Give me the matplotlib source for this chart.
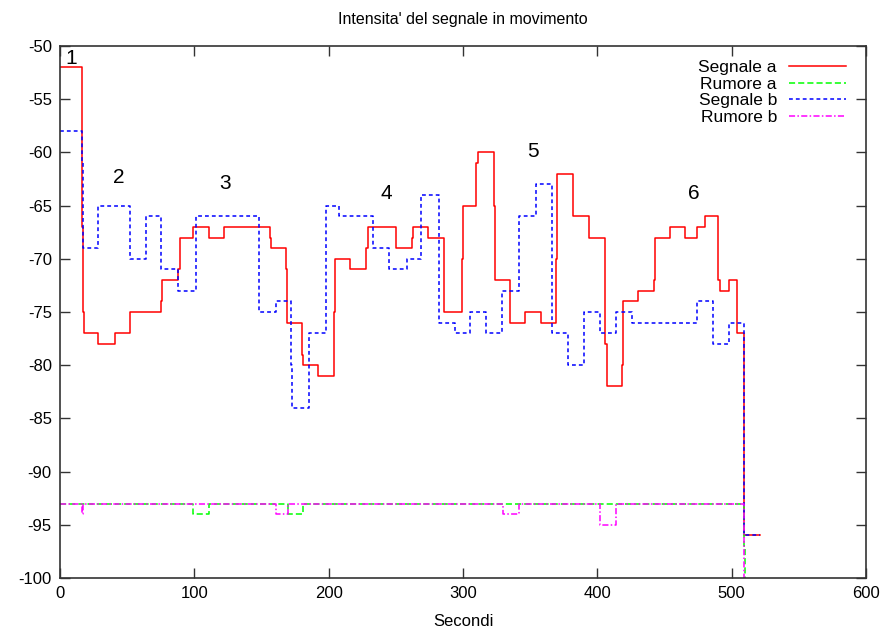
"""
Intensita' del segnale in movimento - segnale e rumore per due nodi
"""
import matplotlib
matplotlib.use('Agg')
import matplotlib.pyplot as plt

plt.rcParams['font.family'] = ['Liberation Sans', 'DejaVu Sans']
plt.rcParams['axes.unicode_minus'] = False

# punti di cambio (secondi, dBm), disegnati a gradini
segnale_a_t = [0, 16, 17, 18, 28, 41, 52, 75, 76, 88, 89, 99, 111, 122, 156, 157,
               168, 169, 180, 181, 192, 204, 205, 216, 228, 229, 250, 262, 263, 274,
               286, 299, 300, 310, 311, 323, 324, 335, 346, 358, 369, 370, 382, 394,
               406, 407, 418, 419, 430, 442, 443, 454, 465, 474, 480, 490, 491, 498,
               504, 509, 521]
segnale_a_v = [-52, -67, -75, -77, -78, -77, -75, -74, -72, -71, -68, -67, -68, -67, -68, -69,
               -71, -76, -79, -80, -81, -75, -70, -71, -69, -67, -69, -68, -67, -68,
               -75, -70, -65, -61, -60, -65, -72, -76, -75, -76, -70, -62, -66, -68,
               -78, -82, -80, -74, -73, -72, -68, -67, -68, -67, -66, -72, -73, -72,
               -77, -96, -96]

segnale_b_t = [0, 16, 17, 28, 52, 64, 75, 88, 101, 148, 161, 172, 173, 185, 198, 208,
               233, 245, 258, 269, 282, 294, 305, 317, 329, 342, 354, 366, 378, 390,
               402, 414, 426, 474, 486, 498, 509, 521]
segnale_b_v = [-58, -61, -69, -65, -70, -66, -71, -73, -66, -75, -74, -80, -84, -77, -65, -66,
               -69, -71, -70, -64, -76, -77, -75, -77, -73, -66, -63, -77, -80, -75,
               -77, -75, -76, -74, -78, -76, -96, -96]

rumore_a_t = [0, 99, 111, 170, 181, 509, 510, 511]
rumore_a_v = [-93, -94, -93, -94, -93, -97, -100, -100]

rumore_b_t = [0, 16, 17, 161, 170, 330, 342, 402, 414, 509, 511]
rumore_b_v = [-93, -94, -93, -94, -93, -94, -93, -95, -93, -100, -100]

# etichette delle fasi
fasi = ['1', '2', '3', '4', '5', '6']
fasi_t = [8, 44, 123, 243, 352, 472]
fasi_v = [-51.2, -62.4, -62.9, -63.9, -59.9, -63.9]

fig = plt.figure(figsize=(8.84, 6.3), dpi=100)
ax = fig.add_axes([0.068, 0.0825, 0.9116, 0.8445])

ax.plot(segnale_a_t, segnale_a_v, drawstyle='steps-post', color='#ff0000', lw=1.1,
        label='Segnale a')
ax.plot(rumore_a_t, rumore_a_v, drawstyle='steps-post', color='#00ff00', lw=1.1,
        linestyle=(0, (4, 2)), label='Rumore a')
ax.plot(segnale_b_t, segnale_b_v, drawstyle='steps-post', color='#0000ff', lw=1.1,
        linestyle=(0, (2.5, 2)), label='Segnale b')
ax.plot(rumore_b_t, rumore_b_v, drawstyle='steps-post', color='#ff00ff', lw=1.1,
        linestyle=(0, (4, 1.5, 1, 1.5)), label='Rumore b')

for lab, t, v in zip(fasi, fasi_t, fasi_v):
    ax.text(t, v, lab, fontsize=15, ha='center', va='center')

ax.set_xlim(0, 600)
ax.set_ylim(-100, -50)
ax.set_xticks(range(0, 601, 100))
ax.set_yticks(range(-100, -49, 5))
ax.tick_params(direction='in', length=7, width=1, top=True, right=True,
               labelsize=12, color='#333333', pad=6)
for s in ax.spines.values():
    s.set_color('#333333')
    s.set_linewidth(1.2)

ax.set_title("Intensita' del segnale in movimento", fontsize=11.5, pad=16)
ax.set_xlabel('Secondi', fontsize=12, labelpad=9)

ax.legend(loc='upper right', bbox_to_anchor=(0.98, 0.98), markerfirst=False,
          frameon=False, fontsize=12.5, handlelength=3.3, labelspacing=0.08,
          borderaxespad=0, borderpad=0.2, handletextpad=0.7)

fig.savefig('out.png', dpi=100)
